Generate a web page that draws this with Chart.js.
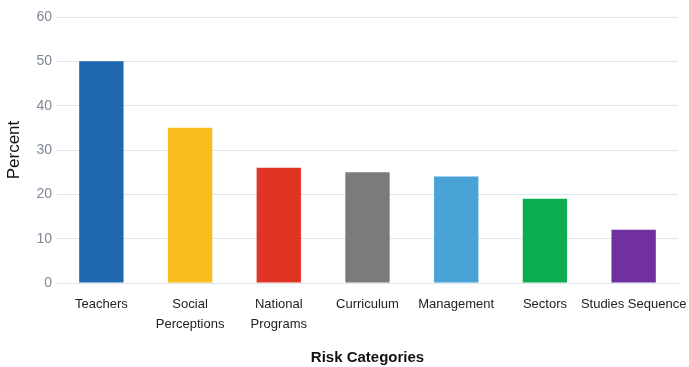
<!DOCTYPE html>
<html>
<head>
<meta charset="utf-8">
<script src="https://cdn.jsdelivr.net/npm/chart.js@4"></script>
<style>
  html, body { margin: 0; padding: 0; background: #fff; }
  #wrap { width: 689px; height: 367px; }
</style>
</head>
<body>
<div id="wrap"><canvas id="riskChart"></canvas></div>
<script>
  const categories = [
    'Teachers',
    ['Social', 'Perceptions'],
    ['National', 'Programs'],
    'Curriculum',
    'Management',
    'Sectors',
    'Studies Sequence',
  ];
  const percentValues = [50, 35, 26, 25, 24, 19, 12];
  const barColors = ['#1f68b0', '#f8bc1c', '#e03524', '#7b7b7b', '#4aa3d6', '#0bad4f', '#7030a0'];
  const yTicks = [0, 10, 20, 30, 40, 50, 60];

  const sans = "'Liberation Sans', Arial, sans-serif";

  new Chart(document.getElementById('riskChart'), {
    type: 'bar',
    data: {
      labels: categories,
      datasets: [{
        data: percentValues,
        backgroundColor: barColors,
        barPercentage: 0.5,
        categoryPercentage: 1,
      }],
    },
    options: {
      responsive: true,
      maintainAspectRatio: false,
      animation: false,
      layout: { padding: { left: 4, right: 11, top: 17, bottom: 0 } },
      plugins: { legend: { display: false }, tooltip: { enabled: false } },
      scales: {
        y: {
          min: 0,
          max: 60,
          afterBuildTicks: (axis) => { axis.ticks = yTicks.map((v) => ({ value: v })); },
          afterFit: (axis) => { axis.width = 53; },
          grid: { color: '#dfe3ea', lineWidth: 1, drawTicks: false },
          border: { display: false },
          ticks: { color: '#7d8797', font: { family: sans, size: 14 }, padding: 5 },
          title: {
            display: true,
            text: 'Percent',
            color: '#111',
            font: { family: sans, size: 17 },
            padding: { top: 0, bottom: 3 },
          },
        },
        x: {
          grid: { display: false },
          border: { display: true, color: '#dfe3ea' },
          afterFit: (axis) => {
            axis.height = 84;
            axis.paddingLeft = 0;
            axis.paddingRight = 0;
          },
          ticks: {
            color: '#222',
            font: { family: sans, size: 13, lineHeight: 1.55 },
            maxRotation: 0,
            autoSkip: false,
            padding: 3,
          },
          title: {
            display: true,
            text: 'Risk Categories',
            color: '#111',
            font: { family: sans, size: 15, weight: 'bold' },
            padding: { top: 14, bottom: 0 },
          },
        },
      },
    },
  });
</script>
</body>
</html>
